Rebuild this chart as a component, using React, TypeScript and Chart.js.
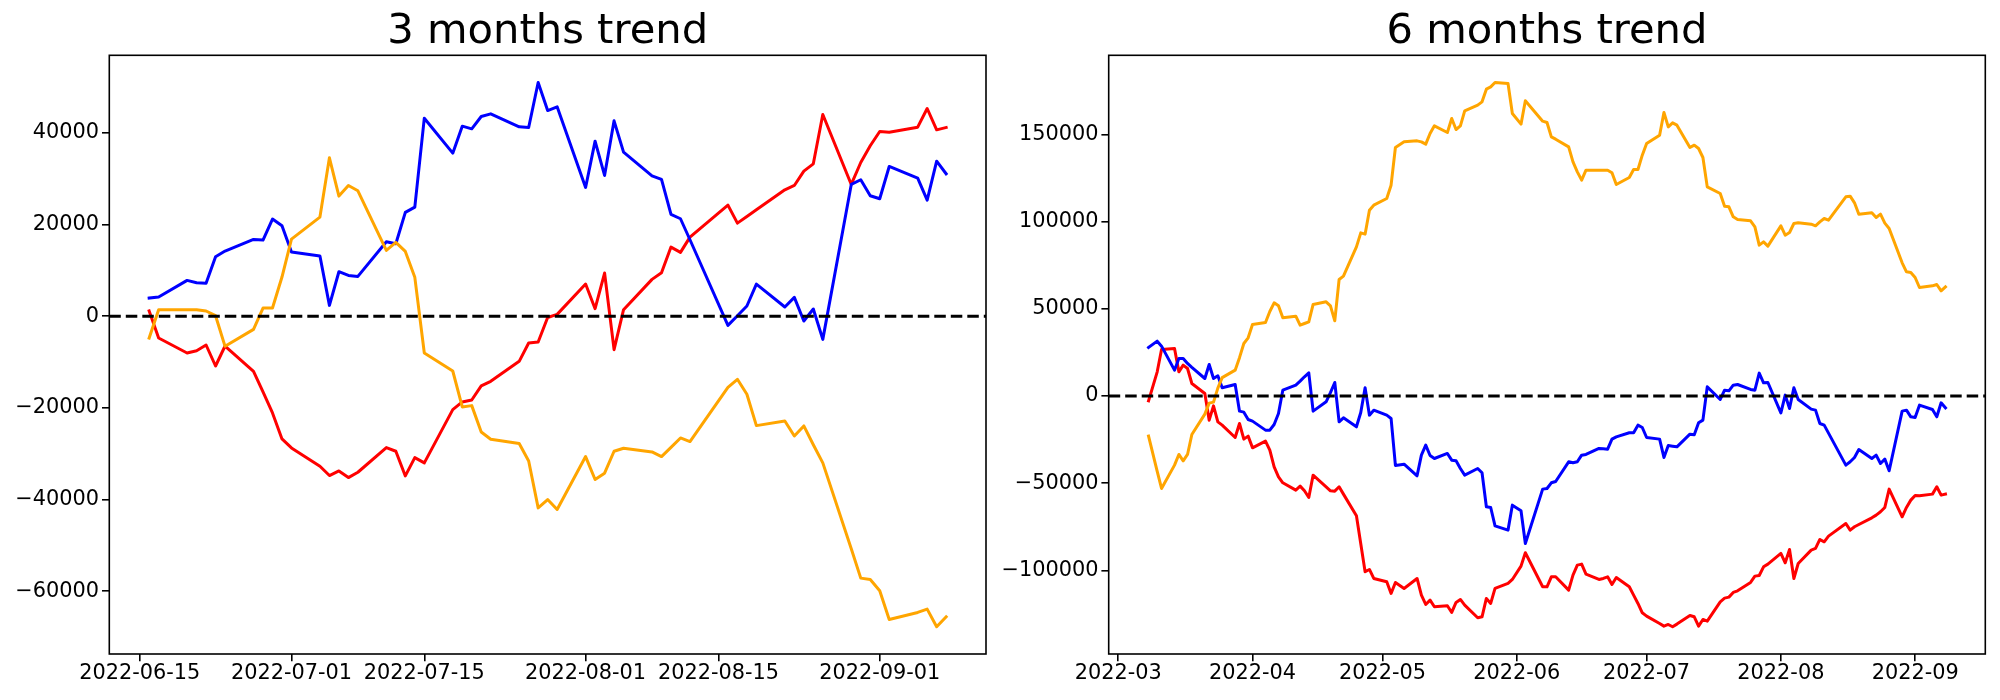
import React, { useEffect, useRef } from "react";
import { Chart, registerables } from "chart.js";

Chart.register(...registerables);

const FONT = "'DejaVu Sans', sans-serif";
const RED = "#ff0000";
const BLUE = "#0000ff";
const ORANGE = "#ffa500";
const BASELINE = 0;

// ---------- 3 months ----------
const TITLE_3M = "3 months trend";
const DATES_3M = [
  "2022-06-16","2022-06-17","2022-06-20","2022-06-21","2022-06-22","2022-06-23","2022-06-24","2022-06-27","2022-06-28","2022-06-29","2022-06-30",
  "2022-07-01","2022-07-04","2022-07-05","2022-07-06","2022-07-07","2022-07-08","2022-07-11","2022-07-12","2022-07-13","2022-07-14","2022-07-15",
  "2022-07-18","2022-07-19","2022-07-20","2022-07-21","2022-07-22","2022-07-25","2022-07-26","2022-07-27","2022-07-28","2022-07-29",
  "2022-08-01","2022-08-02","2022-08-03","2022-08-04","2022-08-05","2022-08-08","2022-08-09","2022-08-10","2022-08-11","2022-08-12",
  "2022-08-16","2022-08-17","2022-08-18","2022-08-19","2022-08-22","2022-08-23","2022-08-24","2022-08-25","2022-08-26","2022-08-29","2022-08-30","2022-08-31",
  "2022-09-01","2022-09-02","2022-09-05","2022-09-06","2022-09-07","2022-09-08",
];
const RED_3M = [
  1120, -4770, -8030, -7530, -6290, -10870, -6510, -12030, -16530, -21110, -26770,
  -28730, -32730, -34760, -33750, -35200, -34040, -28660, -29460, -34840, -30840, -32000,
  -20380, -18710, -18280, -15220, -14210, -9850, -5860, -5640, -300, 390,
  7000, 1630, 9400, -7310, 1410, 8020, 9470, 15060, 13900, 17240,
  24220, 20290, 21750, 23200, 27560, 28500, 31620, 33220, 43970, 28720, 33510, 37150,
  40270, 40120, 41210, 45280, 40630, 41140,
];
const BLUE_3M = [
  3950, 4170, 7800, 7290, 7150, 12960, 14190, 16740, 16590, 21170, 19710,
  13970, 13100, 2350, 9690, 8890, 8670, 16230, 15790, 22620, 23780, 43170,
  35550, 41430, 40850, 43540, 44120, 41290, 41140, 50950, 44840, 45640,
  28070, 38160, 30680, 42590, 35760, 30610, 29810, 22180, 21240, 16660,
  -2010, 100, 2210, 7000, 1990, 4100, -1060, 1550, -5060, 28720, 29740, 26250,
  25600, 32640, 30100, 25310, 33800, 31040,
];
const ORANGE_3M = [
  -4770, 1410, 1410, 1410, 1120, 100, -6580, -2880, 1770, 1770, 8530,
  16810, 21600, 34530, 26180, 28500, 27340, 14340, 16080, 14120, 8460, -8030,
  -11960, -19800, -19510, -25250, -26850, -27790, -31570, -41810, -39990, -42170,
  -30620, -35630, -34250, -29460, -28810, -29610, -30620, -28630, -26560, -27350,
  -15510, -13770, -17040, -23870, -22850, -26120, -23940, -28040, -32000, -50740, -57130, -57420,
  -59890, -66140, -64610, -63890, -67740, -65560,
];
const XTICKS_3M = ["2022-06-15", "2022-07-01", "2022-07-15", "2022-08-01", "2022-08-15", "2022-09-01"];
const XTICK_LABELS_3M = ["2022-06-15", "2022-07-01", "2022-07-15", "2022-08-01", "2022-08-15", "2022-09-01"];
const YTICKS_3M = [-60000, -40000, -20000, 0, 20000, 40000];

// ---------- 6 months ----------
const TITLE_6M = "6 months trend";
const DATES_6M = [
  "2022-03-08","2022-03-10","2022-03-11","2022-03-14","2022-03-15","2022-03-16","2022-03-17","2022-03-18","2022-03-21","2022-03-22","2022-03-23","2022-03-24","2022-03-25","2022-03-28","2022-03-29","2022-03-30","2022-03-31",
  "2022-04-01","2022-04-04","2022-04-05","2022-04-06","2022-04-07","2022-04-08","2022-04-11","2022-04-12","2022-04-13","2022-04-14","2022-04-15","2022-04-18","2022-04-19","2022-04-20","2022-04-21","2022-04-22","2022-04-25","2022-04-26","2022-04-27","2022-04-28","2022-04-29",
  "2022-05-02","2022-05-03","2022-05-04","2022-05-06","2022-05-09","2022-05-10","2022-05-11","2022-05-12","2022-05-13","2022-05-16","2022-05-17","2022-05-18","2022-05-19","2022-05-20","2022-05-23","2022-05-24","2022-05-25","2022-05-26","2022-05-27","2022-05-30","2022-05-31",
  "2022-06-02","2022-06-03","2022-06-07","2022-06-08","2022-06-09","2022-06-10","2022-06-13","2022-06-14","2022-06-15","2022-06-16","2022-06-17","2022-06-20","2022-06-21","2022-06-22","2022-06-23","2022-06-24","2022-06-27","2022-06-28","2022-06-29","2022-06-30",
  "2022-07-01","2022-07-04","2022-07-05","2022-07-06","2022-07-07","2022-07-08","2022-07-11","2022-07-12","2022-07-13","2022-07-14","2022-07-15","2022-07-18","2022-07-19","2022-07-20","2022-07-21","2022-07-22","2022-07-25","2022-07-26","2022-07-27","2022-07-28","2022-07-29",
  "2022-08-01","2022-08-02","2022-08-03","2022-08-04","2022-08-05","2022-08-08","2022-08-09","2022-08-10","2022-08-11","2022-08-12","2022-08-16","2022-08-17","2022-08-18","2022-08-19","2022-08-22","2022-08-23","2022-08-24","2022-08-25","2022-08-26","2022-08-29","2022-08-30","2022-08-31",
  "2022-09-01","2022-09-02","2022-09-05","2022-09-06","2022-09-07","2022-09-08",
];
const RED_6M = [
  -2730, 13900, 26700, 27280, 13900, 17720, 15810, 7210, 1470, -13820, -5600, -14780, -16690, -23760, -15730, -24710, -22990,
  -29680, -25860, -31020, -40580, -46310, -49750, -53960, -51660, -54340, -58160, -45360, -52050, -54340, -54530, -52050, -56250, -68680, -84730, -100790, -99450, -104610,
  -106520, -113210, -106900, -110340, -104610, -114160, -119510, -117030, -120860, -120280, -124100, -118370, -116650, -119900, -127160, -126590, -116070, -118940, -110340, -107470, -105180,
  -97540, -89890, -109390, -109390, -103650, -103650, -111300, -102700, -96960, -96390, -102120, -105180, -104610, -103650, -108050, -104030, -109390, -114160, -118940, -124300,
  -126210, -130410, -131940, -130980, -132320, -130790, -125820, -126590, -131940, -128120, -129070, -117990, -115880, -115310, -112630, -111680, -106900, -103270, -102890, -97920, -96390,
  -90270, -95630, -87980, -104610, -96010, -88360, -87400, -82240, -83590, -80330, -73070, -76890, -74980, -73640, -69820, -68290, -66380, -63890, -53380, -69250, -63890, -59690,
  -57010, -57210, -56250, -52050, -56820, -56250,
];
const BLUE_6M = [
  27850, 31480, 28610, 14850, 21540, 21540, 18670, 16440, 10070, 18100, 10070, 11600, 4720, 6630, -8660, -9230, -13440,
  -14390, -19550, -19550, -16300, -10000, 3380, 6250, 8540, 11030, 13320, -8660, -3310, 2000, 7780, -14780, -12480, -17640, -9420, 4720, -10950, -8090,
  -10950, -12860, -39810, -39050, -45740, -33890, -28160, -34080, -35800, -32930, -36760, -37140, -41530, -45360, -41530, -44020, -63510, -63900, -74410, -76890, -62560,
  -65810, -84540, -53380, -53000, -49750, -48990, -37710, -38290, -37710, -33890, -33510, -30060, -30260, -30450, -24710, -23380, -21080, -21080, -16690, -18020,
  -23760, -24710, -35220, -28340, -28730, -29110, -21850, -22230, -15350, -13820, 5290, -1970, 3380, 3000, 6250, 6630, 3770, 3380, 13130, 7590, 7780,
  -9620, 520, -7130, 4720, -1970, -7510, -8090, -15730, -16690, -21270, -39620, -37710, -35220, -30640, -35800, -33890, -38660, -36180, -42870, -8660, -8090, -11910,
  -12290, -5220, -7700, -11910, -3880, -6750,
];
const ORANGE_6M = [
  -22990, -43250, -53000, -39620, -33500, -37140, -33500, -22040, -10380, -4070, -3500, 4530, 10550, 14850, 22020, 30140, 33390,
  41040, 42190, 48490, 53460, 51740, 44860, 45820, 40650, 41610, 42560, 52510, 54030, 51740, 43140, 66840, 68750, 85570, 93600, 92830, 106600, 109460,
  113290, 120930, 142530, 145780, 146350, 145780, 144440, 150560, 154950, 151130, 159160, 152850, 154950, 163550, 166800, 168710, 175980, 177310, 179800, 179230, 162030,
  155910, 169290, 157630, 156870, 148640, 147310, 142910, 134310, 128570, 123800, 129530, 129530, 129530, 129530, 128000, 121310, 125330, 129920, 129920, 138130,
  144820, 149600, 162600, 154380, 156670, 155330, 142530, 143870, 141960, 136800, 119970, 116150, 108890, 108510, 102770, 101250, 100480, 97040, 86530, 88440, 85950,
  97610, 92260, 93790, 98950, 99330, 98570, 97610, 99900, 101820, 100860, 114240, 114620, 110800, 104300, 105060, 102390, 104300, 99140, 96090, 76390, 71230, 70860,
  67990, 62250, 63210, 63970, 60340, 62630,
];
const XTICKS_6M = ["2022-03-01", "2022-04-01", "2022-05-01", "2022-06-01", "2022-07-01", "2022-08-01", "2022-09-01"];
const XTICK_LABELS_6M = ["2022-03", "2022-04", "2022-05", "2022-06", "2022-07", "2022-08", "2022-09"];
const YTICKS_6M = [-100000, -50000, 0, 50000, 100000, 150000];

// ---------- helpers ----------
function toDay(s: string): number {
  const [y, m, d] = s.split("-").map(Number);
  return Date.UTC(y, m - 1, d) / 86400000;
}

function fmtY(v: number): string {
  return v < 0 ? "\u2212" + String(Math.abs(v)) : String(v);
}

const framePlugin = {
  id: "frame",
  afterDatasetsDraw(chart: any) {
    const { ctx, chartArea: a } = chart;
    ctx.save();
    ctx.strokeStyle = "#000";
    ctx.lineWidth = 1.6;
    ctx.strokeRect(a.left, a.top, a.right - a.left, a.bottom - a.top);
    ctx.restore();
  },
};

interface PanelSpec {
  title: string;
  dates: string[];
  red: number[];
  blue: number[];
  orange: number[];
  xTicks: string[];
  xTickLabels: string[];
  yTicks: number[];
  yAxisWidth: number;
  padRight: number;
}

function buildConfig(p: PanelSpec): any {
  const xs = p.dates.map(toDay);
  const x0 = xs[0];
  const x1 = xs[xs.length - 1];
  const xm = (x1 - x0) * 0.05;
  const all = [...p.red, ...p.blue, ...p.orange];
  const lo = Math.min(...all);
  const hi = Math.max(...all);
  const ym = (hi - lo) * 0.05;
  const tickDays = p.xTicks.map(toDay);

  const series = (vals: number[], color: string) => ({
    data: xs.map((x, i) => ({ x, y: vals[i] })),
    borderColor: color,
    backgroundColor: color,
    borderWidth: 3,
    pointRadius: 0,
    borderJoinStyle: "round",
    borderCapStyle: "square",
    fill: false,
    tension: 0,
  });

  const tickFont = { family: FONT, size: 20.83 };
  const grid = {
    display: true,
    drawOnChartArea: false,
    drawTicks: true,
    tickLength: 7.3,
    tickWidth: 1.6,
    tickColor: "#000",
    color: "#000",
    lineWidth: 1.6,
  };

  return {
    type: "line",
    data: {
      datasets: [
        {
          data: [
            { x: x0 - xm, y: BASELINE },
            { x: x1 + xm, y: BASELINE },
          ],
          borderColor: "#000",
          borderWidth: 3,
          borderDash: [11.5, 5],
          borderCapStyle: "butt",
          pointRadius: 0,
          fill: false,
        },
        series(p.orange, ORANGE),
        series(p.blue, BLUE),
        series(p.red, RED),
      ],
    },
    options: {
      animation: false,
      responsive: false,
      maintainAspectRatio: false,
      events: [],
      layout: { padding: { left: 0, right: p.padRight, top: 0, bottom: 0 } },
      plugins: {
        legend: { display: false },
        tooltip: { enabled: false },
        title: {
          display: true,
          text: p.title,
          fullSize: false,
          color: "#000",
          font: { family: FONT, size: 41.67, weight: "normal", lineHeight: 1.0 },
          padding: { top: 11.8, bottom: 1.83 },
        },
      },
      scales: {
        x: {
          type: "linear",
          min: x0 - xm,
          max: x1 + xm,
          afterBuildTicks: (s: any) => {
            s.ticks = tickDays.map((v) => ({ value: v }));
          },
          afterFit: (s: any) => {
            s.height = 46;
          },
          ticks: {
            color: "#000",
            font: tickFont,
            padding: 0,
            maxRotation: 0,
            minRotation: 0,
            autoSkip: false,
            callback: (v: number) => {
              const i = tickDays.indexOf(v);
              return i >= 0 ? p.xTickLabels[i] : "";
            },
          },
          grid,
          border: { display: false },
        },
        y: {
          type: "linear",
          min: lo - ym,
          max: hi + ym,
          afterBuildTicks: (s: any) => {
            s.ticks = p.yTicks.map((v) => ({ value: v }));
          },
          afterFit: (s: any) => {
            s.width = p.yAxisWidth;
          },
          ticks: {
            color: "#000",
            font: tickFont,
            padding: 3,
            callback: (v: number) => fmtY(v),
          },
          grid,
          border: { display: false },
        },
      },
    },
    plugins: [framePlugin],
  };
}

function Panel({ left, spec }: { left: number; spec: PanelSpec }) {
  const ref = useRef<HTMLCanvasElement>(null);
  useEffect(() => {
    const chart = new Chart(ref.current as HTMLCanvasElement, buildConfig(spec));
    return () => chart.destroy();
  }, []);
  return (
    <div style={{ position: "absolute", left, top: 0, width: 1000, height: 700 }}>
      <canvas ref={ref} width={1000} height={700} style={{ display: "block", width: 1000, height: 700 }} />
    </div>
  );
}

const SPEC_3M: PanelSpec = {
  title: TITLE_3M,
  dates: DATES_3M,
  red: RED_3M,
  blue: BLUE_3M,
  orange: ORANGE_3M,
  xTicks: XTICKS_3M,
  xTickLabels: XTICK_LABELS_3M,
  yTicks: YTICKS_3M,
  yAxisWidth: 109.3,
  padRight: 14,
};

const SPEC_6M: PanelSpec = {
  title: TITLE_6M,
  dates: DATES_6M,
  red: RED_6M,
  blue: BLUE_6M,
  orange: ORANGE_6M,
  xTicks: XTICKS_6M,
  xTickLabels: XTICK_LABELS_6M,
  yTicks: YTICKS_6M,
  yAxisWidth: 108.7,
  padRight: 14.7,
};

export default function App() {
  return (
    <div style={{ position: "absolute", left: 0, top: 0, width: 2000, height: 700, background: "#fff" }}>
      <Panel left={0} spec={SPEC_3M} />
      <Panel left={1000} spec={SPEC_6M} />
    </div>
  );
}
